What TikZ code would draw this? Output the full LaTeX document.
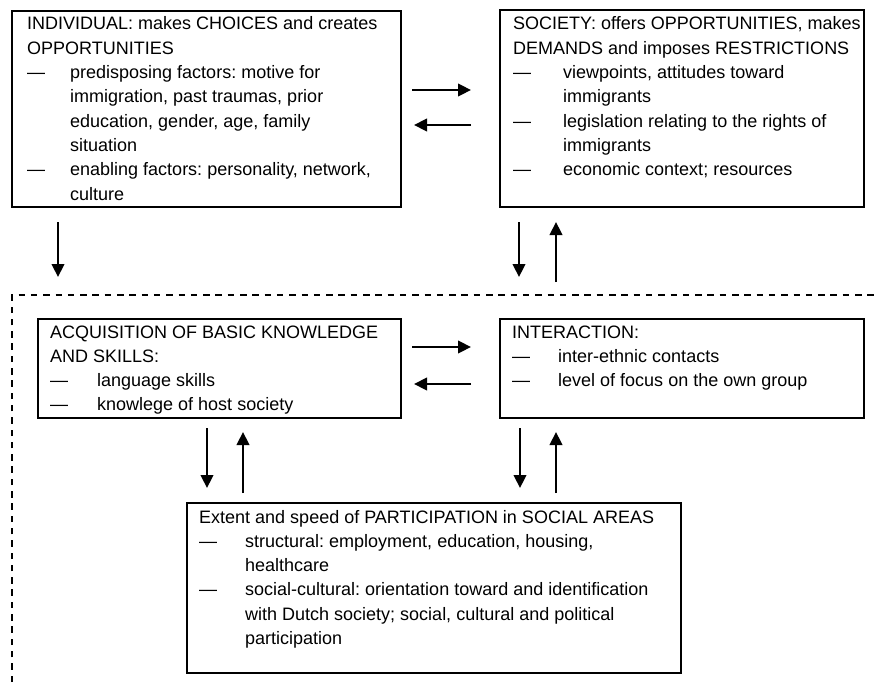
\documentclass[tikz,border=0pt]{standalone}
\usepackage{fontspec}
\setmainfont{Liberation Sans}
\usetikzlibrary{arrows.meta,calc}
\newcommand{\Itm}[2]{\makebox[#1][l]{—}#2}
\newcommand{\Cnt}[2]{\hspace*{#1}#2}
\frenchspacing
\begin{document}
\begin{tikzpicture}[x=1pt,y=-1pt,
  box/.style={draw, line width=1.5pt, anchor=north west, inner sep=0pt, outer sep=0pt},
  txt/.style={anchor=base west, inner sep=0pt, font=\fontsize{18}{24.3}\selectfont},
  arr/.style={line width=2.3pt, -{Triangle[length=13pt,width=12.5pt]}},
  frame/.style={line width=2.8pt, dash pattern=on 6.5pt off 5.8pt}]
\useasboundingbox (0,0) rectangle (877,682);
% boxes
\node[box, minimum width=389pt, minimum height=196pt] (ind) at (12,11) {};
\node[box, minimum width=364pt, minimum height=197pt] (soc) at (500,10) {};
\node[box, minimum width=363pt, minimum height=99pt] (acq) at (38,319) {};
\node[box, minimum width=364pt, minimum height=99pt] (int) at (500,319) {};
\node[box, minimum width=494pt, minimum height=170pt] (par) at (187,503) {};
% texts
\node[txt] (indT) at (27,30) {\parbox[t]{500pt}{%
INDIVIDUAL: makes CHOICES and creates\\
OPPORTUNITIES\\
\Itm{43pt}{predisposing factors: motive for}\\
\Cnt{43pt}{immigration, past traumas, prior}\\
\Cnt{43pt}{education, gender, age, family}\\
\Cnt{43pt}{situation}\\
\Itm{43pt}{enabling factors: personality, network,}\\
\Cnt{43pt}{culture}}};
\node[txt] (socT) at (513,30) {\parbox[t]{500pt}{%
SOCIETY: offers OPPORTUNITIES, makes\\
DEMANDS and imposes RESTRICTIONS\\
\Itm{50pt}{viewpoints, attitudes toward}\\
\Cnt{50pt}{immigrants}\\
\Itm{50pt}{legislation relating to the rights of}\\
\Cnt{50pt}{immigrants}\\
\Itm{50pt}{economic context; resources}}};
\node[txt] (acqT) at (50,338) {\parbox[t]{500pt}{%
ACQUISITION OF BASIC KNOWLEDGE\\
AND SKILLS:\\
\Itm{47pt}{language skills}\\
\Itm{47pt}{knowlege of host society}}};
\node[txt] (intT) at (512,338) {\parbox[t]{500pt}{%
INTERACTION:\\
\Itm{46pt}{inter-ethnic contacts}\\
\Itm{46pt}{level of focus on the own group}}};
\node[txt] (parT) at (199,523) {\parbox[t]{600pt}{%
Extent and speed of PARTICIPATION in SOCIAL AREAS\\
\Itm{46pt}{structural: employment, education, housing,}\\
\Cnt{46pt}{healthcare}\\
\Itm{46pt}{social-cultural: orientation toward and identification}\\
\Cnt{46pt}{with Dutch society; social, cultural and political}\\
\Cnt{46pt}{participation}}};
% dashed frame
\coordinate (fc) at (12,295);
\draw[frame] ($(fc)+(0,387)$) -- (fc) -- ($(fc)+(865,0)$);
% arrows
\draw[arr] ($(ind.north east)+(11,79)$) -- ($(soc.north west)+(-29,80)$);
\draw[arr] ($(soc.north west)+(-29,115)$) -- ($(ind.north east)+(13,114)$);
\draw[arr] ($(ind.south west)+(46,15)$) -- ($(acq.north west)+(20,-42)$);
\draw[arr] ($(soc.south west)+(19,15)$) -- ($(int.north west)+(19,-42)$);
\draw[arr] ($(int.north west)+(56,-37)$) -- ($(soc.south west)+(56,15)$);
\draw[arr] ($(acq.north east)+(11,28)$) -- ($(int.north west)+(-29,28)$);
\draw[arr] ($(int.north west)+(-29,65)$) -- ($(acq.north east)+(13,65)$);
\draw[arr] ($(acq.south west)+(169,10)$) -- ($(par.north west)+(20,-15)$);
\draw[arr] ($(par.north west)+(56,-10)$) -- ($(acq.south west)+(205,14)$);
\draw[arr] ($(int.south west)+(20,10)$) -- ($(par.north west)+(333,-15)$);
\draw[arr] ($(par.north west)+(369,-10)$) -- ($(int.south west)+(56,14)$);
\end{tikzpicture}
\end{document}
